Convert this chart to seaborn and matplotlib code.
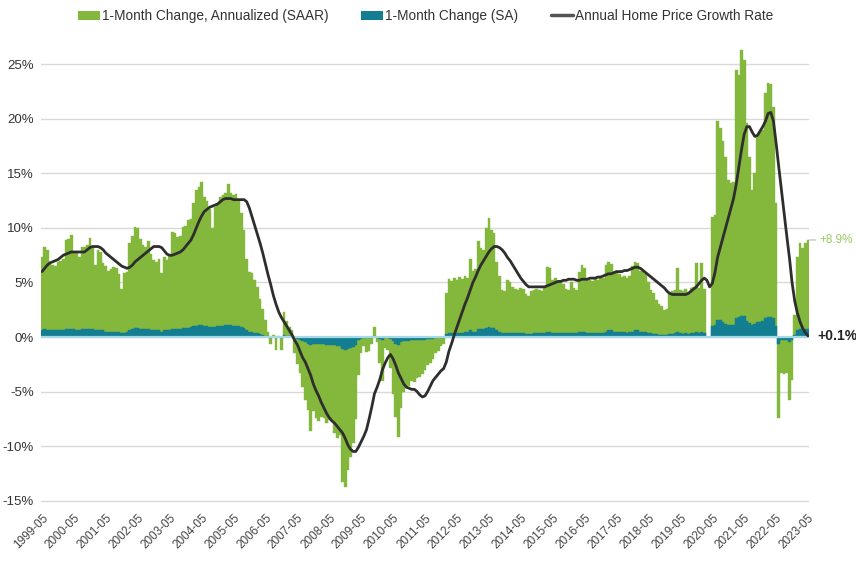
import numpy as np
import pandas as pd
import matplotlib
matplotlib.use("Agg")
import matplotlib.pyplot as plt
import seaborn as sns
from matplotlib.patches import Patch
from matplotlib.lines import Line2D

# ---------------- data (monthly, 1999-05 .. 2023-05) ----------------
SAAR = [
    7.3, 8.3, 8.0, 6.8, 6.6, 6.5, 6.9, 7.0, 7.2, 8.9, 9.0, 9.4,
    7.8, 7.7, 7.3, 8.3, 8.3, 8.4, 9.1, 8.3, 6.6, 8.0, 7.8, 6.8,
    6.5, 6.1, 6.2, 6.4, 6.3, 5.8, 4.4, 5.9, 6.0, 8.6, 9.3, 10.1,
    10.0, 9.0, 8.4, 8.3, 8.8, 7.6, 7.1, 6.9, 7.2, 5.9, 7.3, 7.1,
    7.5, 9.6, 9.5, 9.2, 9.3, 10.1, 10.2, 10.7, 10.8, 12.3, 13.5, 13.8,
    14.2, 12.8, 12.5, 11.7, 10.0, 11.9, 12.1, 12.8, 13.0, 13.2, 14.0, 13.2,
    13.0, 13.1, 12.6, 11.4, 9.8, 7.2, 6.0, 5.9, 5.2, 4.6, 3.5, 2.6,
    1.6, 0.5, -0.6, 0.2, -1.2, 0.1, -1.2, 2.3, 1.5, 0.9, 0.6, -1.5,
    -2.5, -3.3, -4.6, -5.8, -6.7, -8.6, -6.8, -7.4, -7.7, -7.3, -7.4, -7.9,
    -7.6, -7.7, -8.8, -9.3, -9.0, -13.3, -13.8, -12.2, -11.0, -9.7, -7.5, -3.5,
    -1.5, -0.8, -1.4, -1.3, -0.6, 0.9, -0.5, -2.4, -4.0, -1.0, -1.2, -2.8,
    -5.2, -7.3, -9.2, -6.5, -5.0, -4.7, -4.5, -4.0, -4.1, -3.8, -3.7, -3.4,
    -3.0, -2.6, -2.4, -2.0, -1.5, -1.3, -0.8, -0.6, 4.0, 5.3, 5.1, 5.4,
    5.2, 5.5, 5.3, 5.6, 5.4, 7.2, 6.1, 6.2, 8.8, 8.2, 8.0, 10.0,
    10.9, 9.8, 9.5, 6.9, 5.6, 4.3, 4.2, 5.2, 5.0, 4.6, 4.4, 4.3,
    4.5, 4.4, 3.9, 3.8, 4.2, 4.3, 4.4, 4.3, 4.2, 4.5, 6.4, 6.3,
    5.2, 5.4, 5.0, 5.1, 4.9, 4.4, 4.3, 5.0, 4.5, 4.3, 6.0, 6.6,
    6.3, 5.3, 5.2, 5.1, 5.3, 5.2, 5.4, 5.4, 6.6, 6.9, 6.7, 6.0,
    6.1, 5.8, 5.5, 5.6, 5.4, 5.6, 6.5, 6.9, 6.8, 6.1, 6.0, 5.8,
    5.0, 4.3, 4.0, 3.4, 3.0, 2.8, 2.5, 2.6, 4.0, 4.2, 4.3, 6.3,
    4.3, 4.2, 4.4, 4.1, 4.5, 4.6, 6.8, 4.5, 6.8, 4.4, 0.0, 0.0,
    11.0, 11.2, 19.8, 19.2, 18.0, 16.5, 14.4, 14.1, 14.2, 24.5, 24.0, 26.3,
    25.4, 19.6, 16.5, 13.5, 15.0, 18.5, 18.7, 19.0, 22.4, 23.3, 23.2, 21.1,
    12.3, -7.4, -3.3, -3.4, -3.3, -5.8, -3.9, 2.0, 7.3, 8.6, 8.2, 8.6, 8.9,
]

SA = [
    0.6, 0.7, 0.6, 0.6, 0.6, 0.6, 0.6, 0.6, 0.6, 0.7, 0.7, 0.7,
    0.7, 0.6, 0.6, 0.7, 0.7, 0.7, 0.7, 0.7, 0.6, 0.6, 0.6, 0.6,
    0.5, 0.5, 0.5, 0.5, 0.5, 0.5, 0.4, 0.4, 0.5, 0.6, 0.7, 0.8,
    0.8, 0.7, 0.7, 0.7, 0.7, 0.6, 0.6, 0.6, 0.6, 0.5, 0.6, 0.6,
    0.6, 0.7, 0.7, 0.7, 0.7, 0.8, 0.8, 0.8, 0.9, 1.0, 1.0, 1.1,
    1.1, 1.0, 1.0, 0.9, 0.9, 0.9, 1.0, 1.0, 1.0, 1.1, 1.1, 1.1,
    1.0, 1.0, 1.0, 0.9, 0.8, 0.6, 0.5, 0.5, 0.4, 0.4, 0.3, 0.2,
    0.1, 0.05, -0.05, 0.0, -0.1, 0.0, -0.1, 0.2, 0.1, 0.1, 0.05, -0.1,
    -0.2, -0.3, -0.4, -0.5, -0.6, -0.7, -0.6, -0.6, -0.6, -0.6, -0.6, -0.7,
    -0.7, -0.7, -0.7, -0.8, -0.8, -1.1, -1.2, -1.1, -1.0, -0.9, -0.7, -0.3,
    -0.2, -0.1, -0.1, -0.1, -0.05, 0.05, -0.05, -0.2, -0.3, -0.1, -0.1, -0.2,
    -0.4, -0.6, -0.7, -0.5, -0.4, -0.4, -0.4, -0.3, -0.3, -0.3, -0.3, -0.3,
    -0.3, -0.2, -0.2, -0.2, -0.1, -0.1, -0.1, -0.05, 0.3, 0.4, 0.4, 0.4,
    0.4, 0.4, 0.4, 0.5, 0.5, 0.6, 0.5, 0.5, 0.7, 0.7, 0.7, 0.8,
    0.9, 0.8, 0.8, 0.6, 0.5, 0.4, 0.4, 0.4, 0.4, 0.4, 0.4, 0.4,
    0.4, 0.4, 0.3, 0.3, 0.3, 0.4, 0.4, 0.4, 0.4, 0.4, 0.5, 0.5,
    0.4, 0.4, 0.4, 0.4, 0.4, 0.4, 0.4, 0.4, 0.4, 0.4, 0.5, 0.5,
    0.5, 0.4, 0.4, 0.4, 0.4, 0.4, 0.4, 0.4, 0.5, 0.6, 0.6, 0.5,
    0.5, 0.5, 0.5, 0.5, 0.4, 0.5, 0.5, 0.6, 0.6, 0.5, 0.5, 0.5,
    0.4, 0.4, 0.3, 0.3, 0.2, 0.2, 0.2, 0.2, 0.3, 0.3, 0.4, 0.5,
    0.4, 0.3, 0.4, 0.3, 0.4, 0.4, 0.5, 0.4, 0.5, 0.4, 0.0, 0.0,
    1.0, 1.1, 1.6, 1.6, 1.4, 1.2, 1.1, 1.1, 1.1, 1.7, 1.8, 1.9,
    1.9, 1.5, 1.3, 1.1, 1.2, 1.4, 1.4, 1.5, 1.7, 1.8, 1.8, 1.7,
    1.0, -0.6, -0.3, -0.3, -0.3, -0.5, -0.3, 0.2, 0.6, 0.7, 0.7, 0.7, 0.7,
]

ANNUAL = [
    6.0, 6.3, 6.6, 6.8, 6.9, 7.0, 7.1, 7.3, 7.5, 7.6, 7.7, 7.8,
    7.8, 7.8, 7.8, 7.8, 7.8, 8.0, 8.2, 8.3, 8.3, 8.3, 8.2, 8.0,
    7.7, 7.5, 7.3, 7.1, 6.9, 6.7, 6.5, 6.4, 6.3, 6.4, 6.6, 6.9,
    7.1, 7.3, 7.5, 7.7, 7.9, 8.1, 8.3, 8.3, 8.3, 8.2, 7.9, 7.6,
    7.5, 7.5, 7.6, 7.7, 7.8, 8.0, 8.3, 8.6, 8.9, 9.4, 10.0, 10.6,
    11.1, 11.5, 11.7, 11.9, 12.0, 12.1, 12.2, 12.4, 12.6, 12.7, 12.7, 12.7,
    12.6, 12.6, 12.6, 12.6, 12.6, 12.4, 11.8, 11.0, 10.2, 9.4, 8.6, 7.7,
    6.7, 5.7, 4.8, 3.8, 3.0, 2.3, 1.8, 1.4, 1.0, 0.6, 0.2, -0.3,
    -0.7, -1.3, -1.9, -2.3, -2.9, -3.5, -4.3, -4.9, -5.4, -6.0, -6.5, -7.0,
    -7.4, -7.7, -7.9, -8.2, -8.5, -8.8, -9.3, -9.9, -10.3, -10.5, -10.5, -10.1,
    -9.6, -9.1, -8.5, -7.5, -6.4, -5.2, -4.6, -3.9, -3.0, -2.4, -1.9, -1.6,
    -2.0, -2.6, -3.3, -3.8, -4.3, -4.6, -4.7, -4.8, -4.8, -5.0, -5.3, -5.5,
    -5.4, -5.0, -4.5, -4.0, -3.7, -3.4, -3.1, -2.9, -2.3, -1.3, -0.6, 0.2,
    0.9, 1.6, 2.3, 3.0, 3.6, 4.3, 5.0, 5.5, 6.1, 6.6, 7.0, 7.4,
    7.8, 8.1, 8.3, 8.3, 8.2, 8.0, 7.7, 7.3, 7.0, 6.6, 6.2, 5.8,
    5.4, 5.1, 4.8, 4.6, 4.6, 4.6, 4.6, 4.6, 4.6, 4.6, 4.7, 4.8,
    4.9, 5.0, 5.1, 5.1, 5.2, 5.2, 5.3, 5.3, 5.3, 5.2, 5.2, 5.3,
    5.3, 5.3, 5.4, 5.4, 5.4, 5.5, 5.5, 5.6, 5.7, 5.8, 5.8, 5.9,
    6.0, 6.0, 6.0, 6.1, 6.1, 6.2, 6.3, 6.4, 6.4, 6.3, 6.1, 5.9,
    5.7, 5.5, 5.3, 5.1, 4.9, 4.7, 4.5, 4.2, 4.0, 3.9, 3.9, 3.9,
    3.9, 3.9, 3.9, 4.0, 4.2, 4.4, 4.6, 4.9, 5.2, 5.4, 5.2, 4.6,
    4.9, 5.9, 7.3, 8.2, 9.1, 10.0, 10.9, 11.8, 12.7, 14.0, 15.6, 17.2,
    18.6, 19.3, 19.3, 18.8, 18.4, 18.5, 18.9, 19.3, 19.8, 20.5, 20.6, 19.8,
    17.8, 15.6, 13.5, 11.4, 9.3, 7.3, 5.0, 3.3, 2.2, 1.4, 0.8, 0.4, 0.1,
]

TICK_LABELS = [
    "1999-05", "2000-05", "2001-05", "2002-05", "2003-05", "2004-05",
    "2005-05", "2006-05", "2007-05", "2008-05", "2009-05", "2010-05",
    "2011-05", "2012-05", "2013-05", "2014-05", "2015-05", "2016-05",
    "2017-05", "2018-05", "2019-05", "2020-05", "2021-05", "2022-05",
    "2023-05",
]
Y_TICKS = [-15, -10, -5, 0, 5, 10, 15, 20, 25]
Y_TICK_LABELS = ["-15%", "-10%", "-5%", "0%", "5%", "10%", "15%", "20%", "25%"]

SERIES_NAMES = ["1-Month Change, Annualized (SAAR)", "1-Month Change (SA)",
                "Annual Home Price Growth Rate"]

# ---------------- style ----------------
GREEN = "#84b83c"
TEAL = "#137d91"
LINE = "#2e2e2e"
GRID = "#d9d9d9"
ZERO = "#a6d8e5"
TEXT = "#333333"

sns.set_theme(style="white")
plt.rcParams["font.family"] = ["Liberation Sans", "DejaVu Sans"]

idx = np.arange(len(SAAR))
df = pd.DataFrame({"month": idx, "saar": SAAR, "sa": SA, "annual": ANNUAL})

fig = plt.figure(figsize=(8.56, 5.69), dpi=100)
ax = fig.add_axes([0.0475, 0.1146, 0.898, 0.8104])

sns.barplot(data=df, x="month", y="saar", native_scale=True, width=1.0,
            color=GREEN, saturation=1, errorbar=None,
            edgecolor=GREEN, linewidth=0.3, ax=ax, zorder=2)
sns.barplot(data=df, x="month", y="sa", native_scale=True, width=1.0,
            color=TEAL, saturation=1, errorbar=None,
            edgecolor=TEAL, linewidth=0.3, ax=ax, zorder=3)
ax.axhline(0, color=ZERO, lw=1.6, zorder=3.5)
sns.lineplot(data=df, x="month", y="annual", color=LINE, lw=2.0, ax=ax, zorder=4)

ax.set_xlim(-0.5, len(SAAR) - 0.5)
ax.set_ylim(-15.3, 27)
ax.set_yticks(Y_TICKS)
ax.set_yticklabels(Y_TICK_LABELS, fontsize=9.5, color=TEXT)
ax.set_xticks(np.arange(0, len(SAAR), 12))
ax.set_xticklabels(TICK_LABELS, rotation=45, ha="right", rotation_mode="anchor",
                   fontsize=8.5, color="#444444")
ax.tick_params(axis="y", length=0, pad=5)
ax.tick_params(axis="x", length=0, pad=6)
ax.set_xlabel("")
ax.set_ylabel("")
ax.yaxis.grid(True, color=GRID, lw=1)
ax.xaxis.grid(False)
ax.set_axisbelow(True)
for s in ax.spines.values():
    s.set_visible(False)

# end labels
last = len(SAAR) - 1
ax.annotate(f"+{SAAR[-1]:.1f}%", xy=(last + 0.5, SAAR[-1]), xytext=(7, 0),
            textcoords="offset points", ha="left", va="center",
            fontsize=8.5, color="#9ccb66", annotation_clip=False,
            arrowprops=dict(arrowstyle="-", color="#b5b5b5", lw=0.8,
                            shrinkA=0, shrinkB=0))
ax.annotate(f"+{ANNUAL[-1]:.1f}%", xy=(last, ANNUAL[-1]), xytext=(6.5, 0),
            textcoords="offset points", ha="left", va="center",
            fontsize=10, fontweight="bold", color="#222222",
            annotation_clip=False)

handles = [Patch(facecolor=GREEN, edgecolor="none"),
           Patch(facecolor=TEAL, edgecolor="none"),
           Line2D([], [], color="#555555", lw=2.5)]
fig.legend(handles, SERIES_NAMES, loc="center", bbox_to_anchor=(0.497, 0.972),
           ncol=3, frameon=False, fontsize=9.8, columnspacing=2.4,
           handlelength=1.6, handleheight=0.65, handletextpad=0.15,
           labelcolor=TEXT)

fig.savefig("out.png", dpi=100)
